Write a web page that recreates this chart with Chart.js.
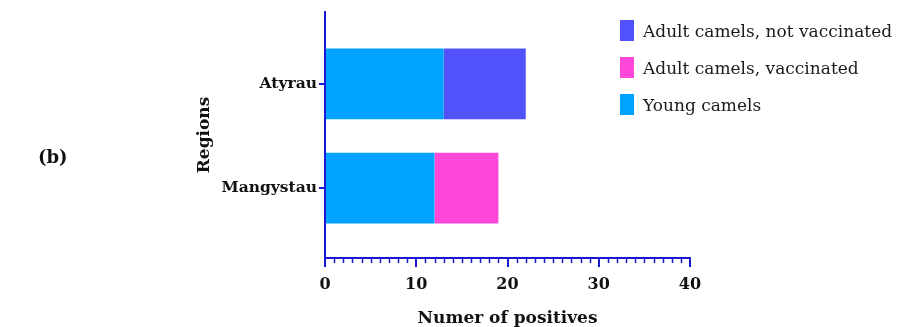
<!DOCTYPE html>
<html>
<head>
<meta charset="utf-8">
<script src="https://cdn.jsdelivr.net/npm/chart.js@4"></script>
<style>
    body { margin: 0; background: #fff; }
    #wrap { position: relative; width: 899px; height: 327px; }
    #panel { position: absolute; left: 38px; top: 146px; font: bold 18px "DejaVu Serif", serif; color: #111; }
    #legend { position: absolute; left: 620px; top: 12px; font: 17px "DejaVu Serif", serif; color: #1a1a1a; }
    .item { display: flex; align-items: center; height: 37px; }
    .box { width: 14px; height: 21px; margin-right: 9px; }
</style>
</head>
<body>
<div id="wrap">
    <canvas id="myChart" width="899" height="327"></canvas>
    <div id="panel">(b)</div>
    <div id="legend"></div>
</div>
<script>
const regions = ['Atyrau', 'Mangystau'];
const youngCamels = [13, 12];
const adultVaccinated = [0, 7];
const adultNotVaccinated = [9, 0];
const xTicks = [0, 10, 20, 30, 40];

const AXIS_COLOR = '#1818d4';
const FONT = '"DejaVu Serif", serif';

function toPoints(values) {
    return values.map((v, i) => ({ x: v, y: i }));
}

const datasets = [
    { label: 'Young camels', data: toPoints(youngCamels), backgroundColor: '#00a3ff' },
    { label: 'Adult camels, vaccinated', data: toPoints(adultVaccinated), backgroundColor: '#ff47da' },
    { label: 'Adult camels, not vaccinated', data: toPoints(adultNotVaccinated), backgroundColor: '#5252fb' }
];

// small ticks every unit under the x axis
const minorTicks = {
    id: 'minorTicks',
    afterDraw(chart) {
        const sx = chart.scales.x;
        const ctx = chart.ctx;
        const y0 = chart.chartArea.bottom;
        ctx.save();
        ctx.strokeStyle = AXIS_COLOR;
        ctx.lineWidth = 1.5;
        for (let v = sx.min; v <= sx.max; v++) {
            if (v % 10 === 0) continue;
            const px = Math.round(sx.getPixelForValue(v)) + 0.5;
            ctx.beginPath();
            ctx.moveTo(px, y0);
            ctx.lineTo(px, y0 + 5);
            ctx.stroke();
        }
        ctx.restore();
    }
};

const ctx = document.getElementById('myChart').getContext('2d');
const chart = new Chart(ctx, {
    type: 'bar',
    data: { datasets: datasets },
    plugins: [minorTicks],
    options: {
        indexAxis: 'y',
        responsive: false,
        animation: false,
        categoryPercentage: 1,
        barPercentage: 0.68,
        layout: { padding: { top: 12, bottom: 0, left: 190, right: 209 } },
        plugins: {
            legend: { display: false },
            tooltip: { enabled: false }
        },
        scales: {
            x: {
                type: 'linear',
                stacked: true,
                min: 0,
                max: 40,
                afterFit: (s) => { s.height = 69; },
                afterBuildTicks: (s) => { s.ticks = xTicks.map(v => ({ value: v })); },
                border: { color: AXIS_COLOR, width: 2 },
                grid: { drawOnChartArea: false, color: AXIS_COLOR, lineWidth: 2, tickLength: 9 },
                ticks: { color: '#111', padding: 8, font: { family: FONT, size: 16, weight: 'bold' } },
                title: {
                    display: true,
                    text: 'Numer of positives',
                    color: '#111',
                    padding: 0,
                    font: { family: FONT, size: 17, weight: 'bold', lineHeight: 1 }
                }
            },
            y: {
                type: 'linear',
                stacked: true,
                reverse: true,
                offset: false,
                min: -0.69,
                max: 1.67,
                afterFit: (s) => { s.width = 135; },
                afterBuildTicks: (s) => { s.ticks = regions.map((r, i) => ({ value: i })); },
                border: { color: AXIS_COLOR, width: 2 },
                grid: { offset: false, drawOnChartArea: false, color: AXIS_COLOR, lineWidth: 2, tickLength: 6 },
                ticks: {
                    color: '#111',
                    padding: 2,
                    font: { family: FONT, size: 15.5, weight: 'bold' },
                    callback: (v) => regions[v]
                },
                title: {
                    display: true,
                    text: 'Regions',
                    color: '#111',
                    padding: { top: 4, bottom: 0 },
                    font: { family: FONT, size: 17, weight: 'bold' }
                }
            }
        }
    }
});

// legend, listed in reverse stack order
const legendDiv = document.getElementById('legend');
datasets.slice().reverse().forEach(ds => {
    const item = document.createElement('div');
    item.className = 'item';
    item.innerHTML = `<span class="box" style="background:${ds.backgroundColor}"></span><span>${ds.label}</span>`;
    legendDiv.appendChild(item);
});
</script>
</body>
</html>
